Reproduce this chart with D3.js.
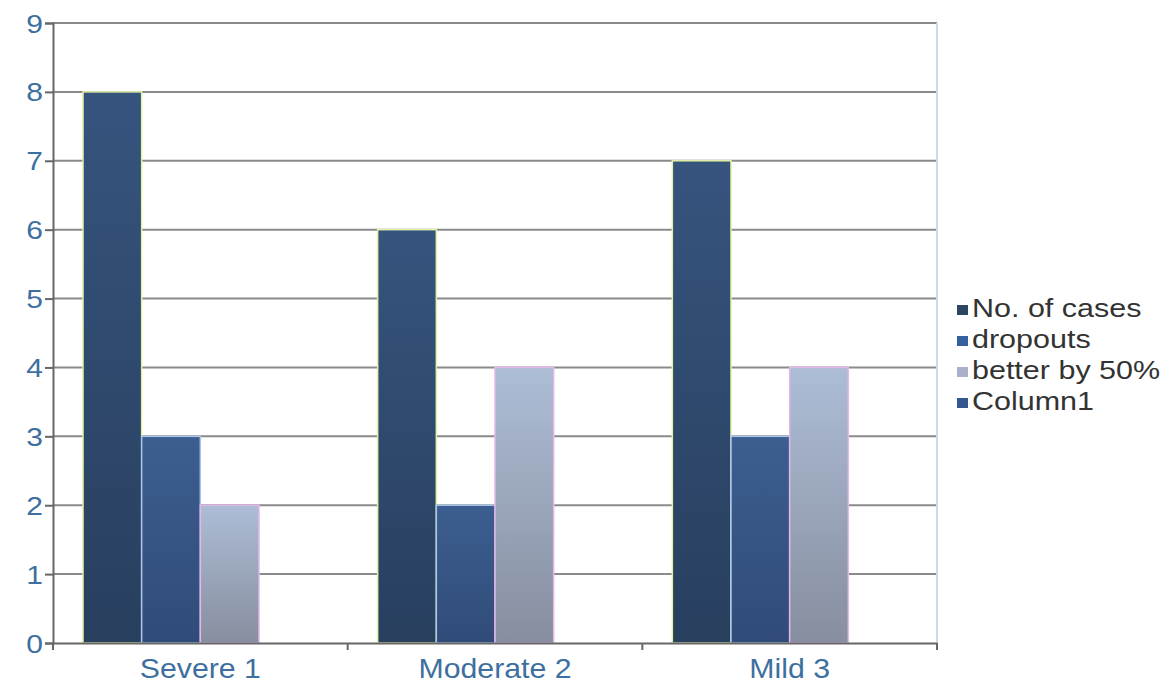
<!DOCTYPE html>
<html>
<head>
<meta charset="utf-8">
<script src="https://cdn.jsdelivr.net/npm/d3@7"></script>
<style>
  body { margin: 0; background: #fff; }
  svg text { font-family: "Liberation Sans", Arial, sans-serif; }
</style>
</head>
<body>
<script>
// chart data
var categories = ["Severe 1", "Moderate 2", "Mild 3"];
var seriesNames = ["No. of cases", "dropouts", "better by 50%", "Column1"];
var noOfCases = [8, 6, 7];
var dropouts = [3, 2, 3];
var betterBy50 = [2, 4, 4];
var column1 = [null, null, null];
var yTicks = [0, 1, 2, 3, 4, 5, 6, 7, 8, 9];

var width = 1176, height = 692;
var margin = {left: 53, right: 239, top: 23, bottom: 49};
var plotW = width - margin.left - margin.right;
var plotH = height - margin.top - margin.bottom;

var svg = d3.select("body").append("svg")
    .attr("width", width)
    .attr("height", height);

var defs = svg.append("defs");
var grads = [
    {id: "g0", top: "#36547e", bot: "#283f5e"},
    {id: "g1", top: "#3c5e90", bot: "#304b78"},
    {id: "g2", top: "#adbdd6", bot: "#878e9f"},
    {id: "g3", top: "#3b5d8e", bot: "#2f4a77"}
];
grads.forEach(function(g) {
    var lg = defs.append("linearGradient").attr("id", g.id)
        .attr("x1", 0).attr("y1", 0).attr("x2", 0).attr("y2", 1);
    lg.append("stop").attr("offset", "0%").attr("stop-color", g.top);
    lg.append("stop").attr("offset", "100%").attr("stop-color", g.bot);
});
var strokes = ["#e4f2a6", "#a9c6e6", "#e2b8e8", "#a9c6e6"];
var legendColors = ["#2c4662", "#35609e", "#aab0cc", "#34578f"];

var g = svg.append("g").attr("transform", "translate(" + margin.left + "," + margin.top + ")");

var x0 = d3.scaleBand().domain(categories).range([0, plotW]).paddingInner(0).paddingOuter(0);
var x1 = d3.scaleBand().domain(seriesNames).range([30, x0.bandwidth() - 30]).padding(0);
var y = d3.scaleLinear().domain([0, 9]).range([plotH, 0]);

// gridlines
g.selectAll("line.grid").data(yTicks.slice(1)).enter().append("line")
    .attr("class", "grid")
    .attr("x1", 0).attr("x2", plotW)
    .attr("y1", function(d) { return y(d); })
    .attr("y2", function(d) { return y(d); })
    .attr("stroke", "#8a8a8a").attr("stroke-width", 2);

// right border of plot area
g.append("line")
    .attr("x1", plotW).attr("x2", plotW).attr("y1", 0).attr("y2", plotH)
    .attr("stroke", "#c8dde8").attr("stroke-width", 2);

var allSeries = [noOfCases, dropouts, betterBy50, column1];
var rows = [];
categories.forEach(function(c, i) {
    seriesNames.forEach(function(s, j) {
        if (allSeries[j][i] != null) rows.push({cat: c, s: s, j: j, v: allSeries[j][i]});
    });
});

g.selectAll("rect.bar").data(rows).enter().append("rect")
    .attr("class", "bar")
    .attr("x", function(d) { return x0(d.cat) + x1(d.s); })
    .attr("width", x1.bandwidth())
    .attr("y", function(d) { return y(d.v); })
    .attr("height", function(d) { return plotH - y(d.v); })
    .attr("fill", function(d) { return "url(#g" + d.j + ")"; })
    .attr("stroke", function(d) { return strokes[d.j]; })
    .attr("stroke-width", 1.5);

// y axis (labels are stretched a bit wider, like the source image)
var ySx = 1.2;
var yAxis = g.append("g")
    .call(d3.axisLeft(y).tickValues(yTicks).tickSize(8).tickFormat(d3.format("d")));
yAxis.select(".domain").attr("stroke", "#666").attr("stroke-width", 2);
yAxis.selectAll(".tick line").attr("stroke", "#666").attr("stroke-width", 2);
yAxis.selectAll(".tick text")
    .attr("x", -10 / ySx)
    .attr("dy", "0.36em")
    .attr("transform", "scale(" + ySx + ",1)")
    .attr("fill", "#3d6f9f").style("font-size", "25px");

// x axis
var xSx = 1.08;
var xAxis = g.append("g").attr("transform", "translate(0," + plotH + ")")
    .call(d3.axisBottom(x0).tickSize(0));
xAxis.select(".domain").attr("stroke", "#666").attr("stroke-width", 2);
xAxis.selectAll(".tick text")
    .attr("y", 35).attr("dy", 0)
    .attr("transform", "scale(" + xSx + ",1)")
    .attr("fill", "#3d6f9f").style("font-size", "28px");
xAxis.selectAll("line.bt").data(d3.range(categories.length + 1)).enter().append("line")
    .attr("class", "bt")
    .attr("x1", function(i) { return i * x0.step(); })
    .attr("x2", function(i) { return i * x0.step(); })
    .attr("y1", 0).attr("y2", 7)
    .attr("stroke", "#666").attr("stroke-width", 2);

// legend
var lSx = 1.22;
var legend = svg.append("g").attr("transform", "translate(957,305)");
var li = legend.selectAll("g").data(seriesNames).enter().append("g")
    .attr("transform", function(d, i) { return "translate(0," + (i * 31) + ")"; });
li.append("rect").attr("x", 0).attr("y", 0).attr("width", 11).attr("height", 10)
    .attr("fill", function(d, i) { return legendColors[i]; });
li.append("text").attr("x", 15 / lSx).attr("y", 12)
    .attr("transform", "scale(" + lSx + ",1)")
    .attr("fill", "#333").style("font-size", "25px")
    .text(function(d) { return d; });
</script>
</body>
</html>
